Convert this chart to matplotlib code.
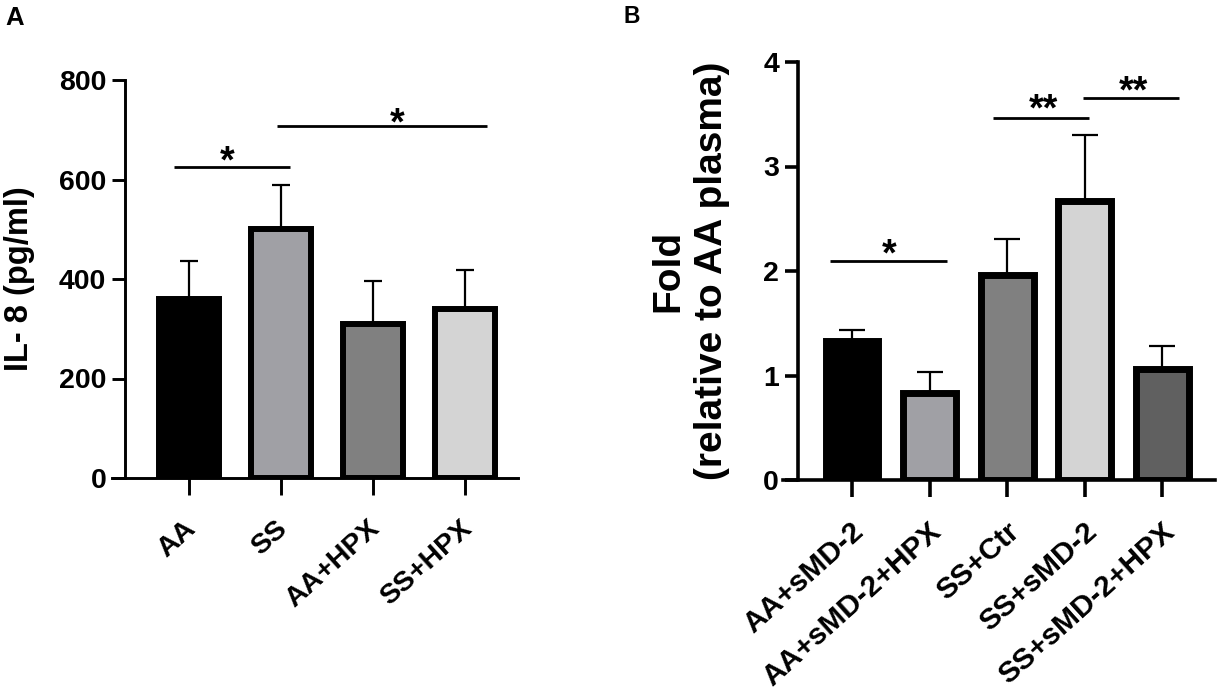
import matplotlib
matplotlib.use('Agg')
import matplotlib.pyplot as plt
import matplotlib.transforms as mtransforms
import numpy as np

plt.rcParams['font.family'] = ['Liberation Sans', 'DejaVu Sans']
plt.rcParams['font.weight'] = 'bold'

# -------------------------
# Data
# -------------------------
a_groups = ['AA', 'SS', 'AA+HPX', 'SS+HPX']
a_means = [360, 500, 310, 340]
a_err = [76, 88, 85, 78]
a_colors = ['#000000', '#a0a0a5', '#808080', '#d4d4d4']
a_ticks = [0, 200, 400, 600, 800]
# significance bars: (x start, x end, y, star x, star y, label)
a_sig = [(-0.16, 1.10, 625, 0.41, 655, '*'),
         (0.96, 3.24, 707, 2.26, 733, '*')]

b_groups = ['AA+sMD-2', 'AA+sMD-2+HPX', 'SS+Ctr', 'SS+sMD-2', 'SS+sMD-2+HPX']
b_means = [1.33, 0.83, 1.96, 2.67, 1.06]
b_err = [0.11, 0.20, 0.35, 0.63, 0.22]
b_colors = ['#000000', '#a0a0a5', '#808080', '#d4d4d4', '#606060']
b_ticks = [0, 1, 2, 3, 4]
b_sig = [(-0.28, 1.23, 2.10, 0.48, 2.25, '*'),
         (1.82, 3.05, 3.46, 2.47, 3.64, '**'),
         (2.98, 4.21, 3.66, 3.63, 3.81, '**')]

FS = 20.5


def bar_panel(ax, groups, means, errs, colors, ticks, sig, xlim, spine_x, ymax,
              width, edge_lw, capsize, spine_lw, xfs, xshift):
    x = np.arange(len(groups))
    ax.errorbar(x, means, yerr=[np.zeros(len(x)), errs], fmt='none', ecolor='black',
                elinewidth=1.6, capsize=capsize, capthick=1.6, zorder=1)
    ax.bar(x, means, width=width, color=colors, edgecolor='black', linewidth=edge_lw, zorder=2)
    for x0, x1, y, sx, sy, lab in sig:
        ax.plot([x0, x1], [y, y], color='black', lw=2.0, zorder=3, solid_capstyle='butt')
        # star glyph centre at (sx, sy): shift baseline down
        ax.annotate(lab, (sx, sy), xytext=(0, -15), textcoords='offset points',
                    ha='center', va='baseline', fontsize=27, fontweight='bold',
                    annotation_clip=False)
    ax.spines['top'].set_visible(False)
    ax.spines['right'].set_visible(False)
    ax.spines['left'].set_position(('data', spine_x))
    ax.spines['left'].set_bounds(0, ymax)
    for s in ['left', 'bottom']:
        ax.spines[s].set_linewidth(spine_lw)
    ax.set_xlim(*xlim)
    ax.set_ylim(0, ymax)
    ax.set_yticks(ticks)
    ax.set_yticklabels([str(t) for t in ticks], fontsize=FS, fontweight='bold')
    ax.set_xticks(x)
    ax.set_xticklabels(groups, rotation=42, ha='right', va='top', rotation_mode='anchor',
                       fontsize=xfs, fontweight='bold')
    ax.tick_params(axis='y', width=spine_lw, length=9.5, pad=4)
    ax.tick_params(axis='x', width=spine_lw, length=12, pad=15)
    shift = mtransforms.ScaledTranslation(xshift / 72, 0, ax.figure.dpi_scale_trans)
    for lbl in ax.get_xticklabels():
        lbl.set_transform(lbl.get_transform() + shift)


fig = plt.figure(figsize=(12.17, 7.0), dpi=100)

ax_a = fig.add_axes([112 / 1217, 1 - 478 / 700, 406 / 1217, 398 / 700])
bar_panel(ax_a, a_groups, a_means, a_err, a_colors, a_ticks, a_sig,
          (-0.837, 3.576), -0.696, 800, 0.65, 4.3, 6.8, 2.1, 20.5, -4)
ax_a.set_ylabel('IL- 8 (pg/ml)', fontsize=23.5, fontweight='bold')
ax_a.yaxis.set_label_coords(-0.19, 0.5)

ax_b = fig.add_axes([783 / 1217, 1 - 480 / 700, 432 / 1217, 418 / 700])
bar_panel(ax_b, b_groups, b_means, b_err, b_colors, b_ticks, b_sig,
          (-0.89, 4.68), -0.70, 4, 0.68, 5.0, 9.4, 2.6, 21.5, -1)
ax_b.set_ylabel('Fold\n(relative to AA plasma)', fontsize=28, fontweight='bold',
                linespacing=1.3)
ax_b.yaxis.set_label_coords(-0.122, 0.5)

fig.text(5 / 1217, 1 - 25 / 700, 'A', fontsize=18.5, fontweight='bold', va='baseline')
fig.text(623 / 1217, 1 - 23 / 700, 'B', fontsize=16.5, fontweight='bold', va='baseline')

fig.savefig('out.png', dpi=100)
